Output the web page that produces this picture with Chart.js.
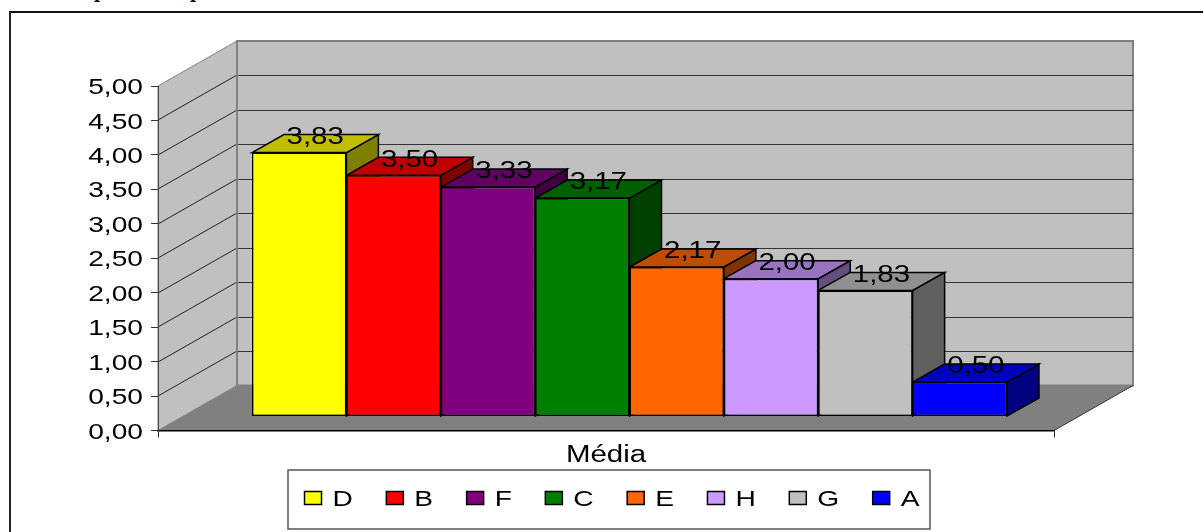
<!DOCTYPE html>
<html>
<head>
<meta charset="utf-8">
<style>
    html, body { margin: 0; padding: 0; background: #fff; overflow: hidden; }
    #wrap { position: relative; width: 1203px; height: 532px; }
    #wrap span { position: absolute; top: -23px; font: bold 22px "Liberation Serif"; color: #000; }
    #box { position: absolute; left: 9px; top: 11px; right: 0; bottom: 0; border-left: 2px solid #222; border-top: 2px solid #111; }
    canvas { position: absolute; left: 0; top: 0; }
</style>
<script src="https://cdn.jsdelivr.net/npm/chart.js@4"></script>
</head>
<body>
<div id="wrap">
    <span style="left:94px">p</span><span style="left:190px">p</span>
    <div id="box"></div>
    <canvas id="mediaChart" width="1203" height="532"></canvas>
</div>
<script>
const categories = ['Média'];
const seriesNames = ['D', 'B', 'F', 'C', 'E', 'H', 'G', 'A'];
const seriesValues = [3.83, 3.50, 3.33, 3.17, 2.17, 2.00, 1.83, 0.50];
const seriesColors = ['#FFFF00', '#FF0000', '#800080', '#008000', '#FF6600', '#CC99FF', '#C0C0C0', '#0000FF'];
const tickStep = 0.5;
const tickMax = 5;

// box depth of the walls, of the bars, and how far the bars sit from the front edge
const WALL_X = 79, WALL_Y = 45;
const CAP_X = 32, CAP_Y = 18;
const SHIFT_X = 23.5, SHIFT_Y = 14;
const TEXT_STRETCH = 1.28;
const TEXT_DROP = 2;
const EDGE = 1.5;

const fontFamily = '"Liberation Sans", Arial, sans-serif';

function decimal(v) {
    return v.toFixed(2).replace('.', ',');
}

function shade(hex, f) {
    const n = parseInt(hex.slice(1), 16);
    const r = Math.round((n >> 16 & 255) * f);
    const g = Math.round((n >> 8 & 255) * f);
    const b = Math.round((n & 255) * f);
    return `rgb(${r},${g},${b})`;
}

function polygon(ctx, points, fill, stroke, width) {
    ctx.beginPath();
    points.forEach((p, i) => i ? ctx.lineTo(p[0], p[1]) : ctx.moveTo(p[0], p[1]));
    ctx.closePath();
    ctx.fillStyle = fill;
    ctx.fill();
    if (stroke) {
        ctx.strokeStyle = stroke;
        ctx.lineWidth = width || 1;
        ctx.stroke();
    }
}

function line(ctx, x1, y1, x2, y2, color, width) {
    ctx.beginPath();
    ctx.moveTo(x1, y1);
    ctx.lineTo(x2, y2);
    ctx.strokeStyle = color;
    ctx.lineWidth = width || 1;
    ctx.stroke();
}

// all chart text is a wide Arial, so canvas text gets stretched on x
function stretchText(ctx) {
    const fill = ctx.fillText.bind(ctx);
    const measure = ctx.measureText.bind(ctx);
    ctx.fillText = (text, x, y) => {
        ctx.save();
        ctx.scale(TEXT_STRETCH, 1);
        fill(text, x / TEXT_STRETCH, y + TEXT_DROP);
        ctx.restore();
    };
    ctx.measureText = text => ({ width: measure(text).width * TEXT_STRETCH });
}

const boxPlugin = {
    id: 'box3d',
    // the category label hangs below its scale box, which would clip it
    afterLayout(chart) {
        chart.scales.x.bottom += 14;
        chart.legend.left += 6;
        chart.legend.right += 6;
    },
    // floor, side wall, back wall, gridlines and the legend frame
    beforeDraw(chart) {
        const ctx = chart.ctx;
        const y = chart.scales.y;
        const left = chart.chartArea.left, right = chart.chartArea.right;
        const bottom = y.getPixelForValue(0), top = y.getPixelForValue(tickMax);

        ctx.save();
        polygon(ctx, [[left + WALL_X, top - WALL_Y], [right + WALL_X, top - WALL_Y], [right + WALL_X, bottom - WALL_Y], [left + WALL_X, bottom - WALL_Y]], '#C0C0C0', '#808080', 2);
        polygon(ctx, [[left, top], [left + WALL_X, top - WALL_Y], [left + WALL_X, bottom - WALL_Y], [left, bottom]], '#C0C0C0', '#808080', 1);
        polygon(ctx, [[left, bottom], [right, bottom], [right + WALL_X, bottom - WALL_Y], [left + WALL_X, bottom - WALL_Y]], '#808080');
        line(ctx, right, bottom, right + WALL_X, bottom - WALL_Y, '#333');

        y.ticks.forEach(t => {
            if (t.value === 0 || t.value === tickMax) return;
            const py = Math.round(y.getPixelForValue(t.value));
            line(ctx, left, py, left + WALL_X, py - WALL_Y, '#222');
            line(ctx, left + WALL_X, py - WALL_Y + 0.5, right + WALL_X, py - WALL_Y + 0.5, '#333');
        });
        line(ctx, left + WALL_X, top - WALL_Y, left + WALL_X, bottom - WALL_Y, '#808080', 2);

        ctx.fillStyle = '#fff';
        ctx.strokeStyle = '#555';
        ctx.lineWidth = 1.5;
        ctx.fillRect(288, 470, 642, 59);
        ctx.strokeRect(288, 470, 642, 59);
        ctx.restore();
    },
    // side and top faces first, left to right, then the bars come on top
    beforeDatasetsDraw(chart) {
        const ctx = chart.ctx;
        ctx.save();
        ctx.translate(SHIFT_X, -SHIFT_Y);
        chart.data.datasets.forEach((ds, i) => {
            const bar = chart.getDatasetMeta(i).data[0];
            const l = bar.x - bar.width / 2, r = bar.x + bar.width / 2;
            polygon(ctx, [[r, bar.y], [r + CAP_X, bar.y - CAP_Y], [r + CAP_X, bar.base - CAP_Y], [r, bar.base]], shade(ds.backgroundColor, 0.5), '#000', EDGE);
            polygon(ctx, [[l, bar.y], [l + CAP_X, bar.y - CAP_Y], [r + CAP_X, bar.y - CAP_Y], [r, bar.y]], shade(ds.backgroundColor, 0.75), '#000', EDGE);
        });
    },
    afterDatasetsDraw(chart) {
        const ctx = chart.ctx;
        ctx.restore();

        ctx.save();
        ctx.font = `23px ${fontFamily}`;
        ctx.fillStyle = '#000';
        ctx.textAlign = 'center';
        ctx.textBaseline = 'middle';
        chart.data.datasets.forEach((ds, i) => {
            const bar = chart.getDatasetMeta(i).data[0];
            ctx.fillText(decimal(ds.data[0]), bar.x + SHIFT_X + 16, bar.y - SHIFT_Y - 17);
        });
        ctx.restore();
    }
};

const canvas = document.getElementById('mediaChart');
const context = canvas.getContext('2d');
stretchText(context);

new Chart(context, {
    type: 'bar',
    data: {
        labels: categories,
        datasets: seriesNames.map((name, i) => ({
            label: name,
            data: [seriesValues[i]],
            backgroundColor: seriesColors[i],
            borderColor: '#000',
            borderWidth: EDGE,
            borderSkipped: false,
            clip: false
        }))
    },
    plugins: [boxPlugin],
    options: {
        responsive: false,
        animation: false,
        categoryPercentage: 0.8426,
        barPercentage: 1,
        layout: { padding: { top: 86, left: 60, right: 149, bottom: 13 } },
        plugins: {
            title: { display: false },
            tooltip: { enabled: false },
            legend: {
                position: 'bottom',
                fullSize: false,
                labels: {
                    boxWidth: 17,
                    boxHeight: 13,
                    padding: 33.5,
                    color: '#000',
                    font: { family: fontFamily, size: 22 }
                }
            }
        },
        scales: {
            x: {
                afterFit(scale) { scale.height = 23; },
                border: { color: '#000', width: 1.5 },
                grid: { drawOnChartArea: false, tickLength: 7, color: '#222' },
                ticks: { color: '#000', padding: 2, font: { family: fontFamily, size: 23 } }
            },
            y: {
                min: 0,
                max: tickMax,
                afterFit(scale) { scale.width = 98; },
                border: { color: '#444', width: 1 },
                grid: { drawOnChartArea: false, tickLength: 7, color: '#333' },
                ticks: {
                    stepSize: tickStep,
                    padding: 8,
                    color: '#000',
                    font: { family: fontFamily, size: 22 },
                    callback: v => decimal(v)
                }
            }
        }
    }
});
</script>
</body>
</html>
